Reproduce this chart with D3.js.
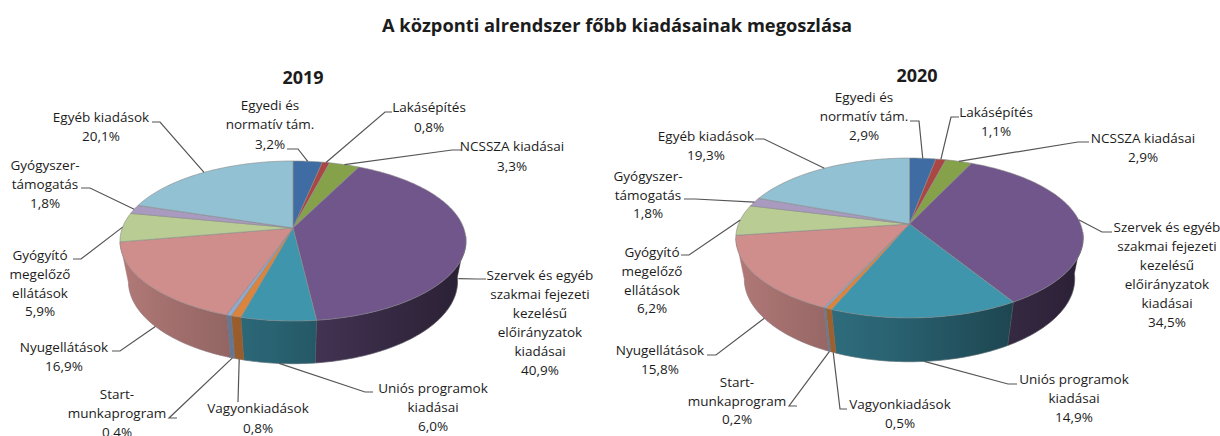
<!DOCTYPE html>
<html><head><meta charset="utf-8">
<script src="https://cdn.jsdelivr.net/npm/d3@7"></script>
<style>html,body{margin:0;background:#fff}svg{display:block}text{font-family:"Open Sans",Lato,sans-serif;fill:#1c1c1c}</style>
</head><body><svg id="c" width="1220" height="436"></svg>
<script>
const mainTitle = "A központi alrendszer főbb kiadásainak megoszlása";
const categories = ["Egyedi és normatív tám.","Lakásépítés","NCSSZA kiadásai","Szervek és egyéb szakmai fejezeti kezelésű előirányzatok kiadásai","Uniós programok kiadásai","Vagyonkiadások","Start-munkaprogram","Nyugellátások","Gyógyító megelőző ellátások","Gyógyszer-támogatás","Egyéb kiadások"];
const labelLines = [["Egyedi és","normatív tám."],["Lakásépítés"],["NCSSZA kiadásai"],["Szervek és egyéb","szakmai fejezeti","kezelésű","előirányzatok","kiadásai"],["Uniós programok","kiadásai"],["Vagyonkiadások"],["Start-","munkaprogram"],["Nyugellátások"],["Gyógyító","megelőző","ellátások"],["Gyógyszer-","támogatás"],["Egyéb kiadások"]];
const values2019 = [3.2,0.8,3.3,40.9,6.0,0.8,0.4,16.9,5.9,1.8,20.1];
const values2020 = [2.9,1.1,2.9,34.5,14.9,0.5,0.2,15.8,6.2,1.8,19.3];
const colors = ["#3F6CA3","#AA4643","#85A24B","#71568C","#3F95AC","#DB843D","#8FA9CF","#CF8E8C","#B8CC94","#A99BC0","#92C1D3"];

// layout: pie geometry
const layout2019 = {id:"a",title:"2019",tx:303,ty:77,cx:293,ay:228,k:.1626,S:77.9,R:170.7,H:42.5,m:.05};
const layout2020 = {id:"b",title:"2020",tx:917,ty:75,cx:909.5,ay:224,k:.175,S:77.5,R:171,H:43,m:.05};
// layout: label centre x, first line centre y, elbow and label-side end of leader, rim depth of leader attachment
const labels2019 = [
 {x:270,y:105,dy:19.3,l:[[287,149],[298,149]],z:0},{x:429,y:107,dy:19.5,l:[[392,112],[385,112]],z:0},
 {x:512,y:146,dy:19.5,l:[[461,150],[452,150]],z:0},{x:540,y:275,dy:19,l:[[486,279],[477,279]],z:.9},
 {x:433,y:388,dy:19,l:[[373,392],[365,392]],z:1},{x:258,y:408,dy:20,l:[[238,402]],z:1},
 {x:117,y:394,dy:19,l:[[177,418],[169,418]],z:1},{x:64,y:347,dy:19,l:[[112,351],[120,351]],z:1},
 {x:40,y:255,dy:18.8,l:[[73,259],[81,259]],z:0},{x:45,y:165,dy:19,l:[[81,188],[90,188]],z:0},
 {x:101,y:117,dy:19,l:[[152,122],[160,122]],z:0}];
const labels2020 = [
 {x:864,y:97,dy:19,l:[[910,121],[919,121]],z:0},{x:996,y:112,dy:18.5,l:[[959,117],[951,117]],z:0},
 {x:1143,y:138,dy:19,l:[[1089,142],[1078,142]],z:0},{x:1167,y:227,dy:19,l:[[1112,232],[1102,232]],z:0},
 {x:1074,y:379,dy:19,l:[[1017,384],[1008,384]],z:1},{x:900,y:404,dy:19,l:[[847,409],[840,409]],z:1},
 {x:737,y:382,dy:18.7,l:[[797,406],[789,406]],z:1},{x:660,y:350,dy:19,l:[[707,355],[716,355]],z:1},
 {x:652,y:252,dy:18.8,l:[[681,255],[689,255]],z:0},{x:648,y:176,dy:18.7,l:[[684,199],[695,199]],z:0},
 {x:706,y:136,dy:19,l:[[755,139],[764,139]],z:0}];

const svg = d3.select("#c");
const defs = svg.append("defs");
const fmt = v => v.toFixed(1).replace(".",",")+"%";
svg.append("text").attr("x",617).attr("y",24).attr("text-anchor","middle").attr("dominant-baseline","central")
  .attr("font-size",18.3).attr("font-weight",700).text(mainTitle);

const shade = d3.scaleLinear().domain([-1,-.1,.5,1]).range([.87,.66,.47,.36]);
const line = d3.line();
const D = Math.PI/180;
const visFrom = 96*D, visTo = 260*D;

function drawPie(values, geo, labs){
  const {cx,ay,k,S,R,H,m} = geo;
  const project = (a,z=0,r=1) => {
    const u=r*Math.sin(a), v=-r*Math.cos(a), w=1-k*v+m*z;
    return [cx+R*u/w, ay+(S*v+H*z)/w];
  };
  const arcs = d3.pie().sort(null).startAngle(0).endAngle(2*Math.PI)(values);
  const g = svg.append("g");
  arcs.forEach(d=>{
    const a0=Math.max(d.startAngle,visFrom), a1=Math.min(d.endAngle,visTo);
    if(a1<=a0) return;
    const n=Math.max(2,Math.ceil((a1-a0)/D));
    const as=d3.range(n+1).map(j=>a0+(a1-a0)*j/n);
    const xs=as.map(a=>project(a)[0]);
    const xa=d3.min(xs), xb=d3.max(xs);
    const id=`w${geo.id}${d.index}`;
    const grad=defs.append("linearGradient").attr("id",id).attr("gradientUnits","userSpaceOnUse")
      .attr("x1",xa).attr("x2",xb).attr("y1",0).attr("y2",0);
    const c=d3.color(colors[d.index]);
    const order=d3.range(as.length).sort((p,q)=>xs[p]-xs[q]);
    order.filter((_,i)=>i%Math.max(1,Math.floor(order.length/12))===0||i===order.length-1).forEach(i=>{
      const f=shade(Math.sin(as[i]));
      grad.append("stop").attr("offset",xb>xa?(xs[i]-xa)/(xb-xa):0).attr("stop-color",d3.rgb(c.r*f,c.g*f,c.b*f));
    });
    g.append("path").attr("d",line([...as.map(a=>project(a)),...as.slice().reverse().map(a=>project(a,1))])+"Z")
      .attr("fill",`url(#${id})`).attr("stroke",`url(#${id})`).attr("stroke-width",.5);
    if(d.startAngle>=visFrom)
      g.append("path").attr("d",line([project(d.startAngle),project(d.startAngle,1)])).attr("stroke","#6b6b6b").attr("stroke-opacity",.5).attr("stroke-width",.7);
  });
  g.append("path").attr("d",line(d3.range(96,261,2).map(t=>project(t*D,1)))).attr("fill","none").attr("stroke","#777").attr("stroke-opacity",.5).attr("stroke-width",.7);
  arcs.forEach(d=>{
    const n=Math.max(2,Math.ceil((d.endAngle-d.startAngle)/D));
    const pts=[project(0,0,0),...d3.range(n+1).map(j=>project(d.startAngle+(d.endAngle-d.startAngle)*j/n))];
    g.append("path").attr("d",line(pts)+"Z").attr("fill",colors[d.index])
      .attr("stroke","#8a8a8a").attr("stroke-width",.6).attr("stroke-linejoin","round");
  });
  arcs.forEach((d,i)=>{
    const mid=(d.startAngle+d.endAngle)/2;
    const pts=[...labs[i].l,project(mid,labs[i].z)];
    svg.append("path").attr("d",line(pts)).attr("fill","none").attr("stroke","#555").attr("stroke-width",1.2);
  });
  arcs.forEach((d,i)=>{
    const lines=[...labelLines[i],fmt(values[i])];
    const t=svg.append("text").attr("text-anchor","middle").attr("font-size",13.5);
    lines.forEach((s,j)=>t.append("tspan").attr("x",labs[i].x).attr("y",labs[i].y+j*labs[i].dy).attr("dominant-baseline","central").text(s));
  });
  svg.append("text").attr("x",geo.tx).attr("y",geo.ty).attr("text-anchor","middle").attr("dominant-baseline","central")
    .attr("font-size",18).attr("font-weight",700).text(geo.title);
}
drawPie(values2019,layout2019,labels2019);
drawPie(values2020,layout2020,labels2020);
</script></body></html>
